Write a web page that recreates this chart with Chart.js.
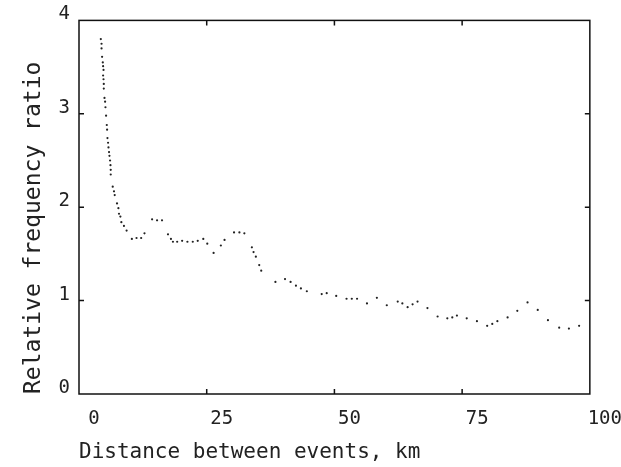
<!DOCTYPE html>
<html>
<head>
<meta charset="utf-8">
<script src="https://cdn.jsdelivr.net/npm/chart.js@4/dist/chart.umd.min.js"></script>
<style>
  body { margin: 0; background: #fff; }
  #wrap { width: 621px; height: 467px; }
</style>
</head>
<body>
<div id="wrap"><canvas id="grafico" width="621" height="467"></canvas></div>
<script>
// distance between events (km)
const distanciaKm = [
  4.27, 4.41, 4.41, 4.52, 4.66, 4.72, 4.80, 4.72, 4.80, 4.85, 4.85, 4.99, 5.11, 5.18,
  5.30, 5.44, 5.50, 5.57, 5.69, 5.77, 5.88, 5.96, 6.08, 6.16, 6.21, 6.21, 6.60, 6.85,
  6.99, 7.44, 7.71, 7.83, 8.10, 8.29, 8.80, 9.32, 10.35, 11.26, 12.17, 12.82, 14.31,
  15.28, 16.25, 17.42, 18.00, 18.39, 19.22, 20.19, 21.22, 22.27, 23.24, 24.33, 25.11,
  26.35, 27.77, 28.49, 30.35, 31.40, 32.37, 33.84, 34.17, 34.62, 35.28, 35.67, 38.45,
  40.33, 41.42, 42.47, 43.44, 44.60, 47.51, 48.49, 50.35, 52.37, 53.40, 54.43, 56.37,
  58.31, 60.25, 62.39, 63.30, 64.33, 65.30, 66.27, 68.21, 70.20, 72.10, 73.07, 73.98,
  75.90, 77.90, 79.90, 80.90, 81.90, 83.90, 85.80, 87.80, 89.80, 91.80, 94.00, 95.90,
  97.90
]
// relative frequency ratio at each distance
const razaoFrequencia = [
  3.80, 3.75, 3.70, 3.61, 3.55, 3.51, 3.47, 3.41, 3.37, 3.32, 3.27, 3.17, 3.13, 3.07,
  2.98, 2.88, 2.83, 2.74, 2.69, 2.64, 2.59, 2.55, 2.50, 2.45, 2.40, 2.35, 2.22, 2.17,
  2.13, 2.04, 1.99, 1.93, 1.90, 1.84, 1.80, 1.75, 1.66, 1.67, 1.67, 1.72, 1.87,
  1.86, 1.86, 1.71, 1.66, 1.63, 1.63, 1.64, 1.63, 1.63, 1.64, 1.66, 1.61,
  1.51, 1.59, 1.65, 1.73, 1.73, 1.72, 1.57, 1.52, 1.47, 1.38, 1.32, 1.20,
  1.23, 1.20, 1.16, 1.13, 1.10, 1.07, 1.08, 1.05, 1.02, 1.02, 1.02, 0.97,
  1.03, 0.95, 0.99, 0.97, 0.93, 0.96, 0.99, 0.92, 0.83, 0.81, 0.82, 0.84,
  0.81, 0.78, 0.73, 0.75, 0.78, 0.82, 0.89, 0.98, 0.90, 0.79, 0.71, 0.70,
  0.73
]
const ticksX = [0, 25, 50, 75, 100]
const ticksY = [0, 1, 2, 3, 4]

const fonte = '"DejaVu Sans Mono", "Liberation Mono", monospace'

const pontos = distanciaKm.map((d, i) => ({ x: d, y: razaoFrequencia[i] }))

// frame round the plot plus short inward tick marks on all four sides
const moldura = {
  id: 'moldura',
  afterDraw(chart) {
    const { ctx, chartArea: a, scales: { x, y } } = chart
    ctx.save()
    ctx.strokeStyle = '#111'
    ctx.lineWidth = 1.5
    ctx.strokeRect(a.left, a.top, a.right - a.left, a.bottom - a.top)
    ctx.beginPath()
    ticksX.slice(1, -1).forEach(v => {
      const px = x.getPixelForValue(v)
      ctx.moveTo(px, a.bottom); ctx.lineTo(px, a.bottom - 5)
      ctx.moveTo(px, a.top); ctx.lineTo(px, a.top + 5)
    })
    ticksY.slice(1, -1).forEach(v => {
      const py = y.getPixelForValue(v)
      ctx.moveTo(a.left, py); ctx.lineTo(a.left + 5, py)
      ctx.moveTo(a.right, py); ctx.lineTo(a.right - 5, py)
    })
    ctx.stroke()
    ctx.restore()
  }
}

const grafico = new Chart(document.getElementById('grafico'), {
  type: 'scatter',
  data: {
    datasets: [{
      data: pontos,
      pointRadius: 1.1,
      pointBorderWidth: 0,
      pointBackgroundColor: '#222',
      showLine: false
    }]
  },
  options: {
    responsive: false,
    animation: false,
    layout: { padding: { top: 20, right: 27, left: 0, bottom: 0 } },
    plugins: { legend: { display: false }, tooltip: { enabled: false } },
    scales: {
      x: {
        type: 'linear',
        min: 0,
        max: 100,
        afterFit(s) { s.height = 73 },
        afterBuildTicks(s) { s.ticks = ticksX.map(v => ({ value: v })) },
        grid: { display: false, drawTicks: false },
        border: { display: false },
        ticks: {
          color: '#222',
          font: { family: fonte, size: 19 },
          padding: 14,
          labelOffset: 15,
          maxRotation: 0,
          autoSkip: false
        },
        title: {
          display: true,
          text: 'Distance between events, km',
          align: 'start',
          color: '#222',
          font: { family: fonte, size: 21 },
          padding: { top: 0, bottom: 2 }
        }
      },
      y: {
        type: 'linear',
        min: 0,
        max: 4,
        afterFit(s) { s.width = 79 },
        afterBuildTicks(s) { s.ticks = ticksY.map(v => ({ value: v })) },
        grid: { display: false, drawTicks: false },
        border: { display: false },
        ticks: {
          color: '#222',
          font: { family: fonte, size: 19 },
          padding: 9,
          labelOffset: -6
        },
        title: {
          display: true,
          text: 'Relative frequency ratio',
          align: 'start',
          color: '#222',
          font: { family: fonte, size: 23 },
          padding: { top: 20, bottom: 0 }
        }
      }
    }
  },
  plugins: [moldura]
})
</script>
</body>
</html>
